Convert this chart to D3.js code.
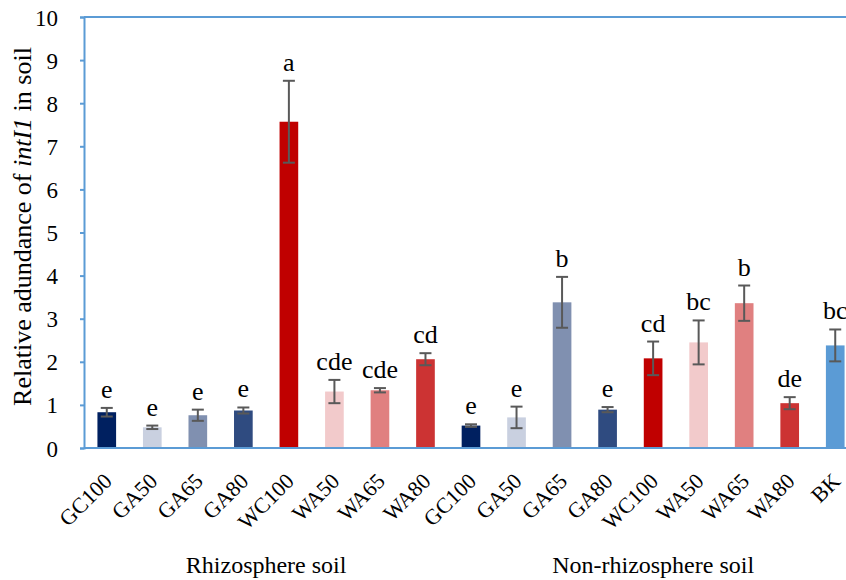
<!DOCTYPE html>
<html>
<head>
<meta charset="utf-8">
<script src="https://cdn.jsdelivr.net/npm/d3@7"></script>
<style>
  body { margin: 0; background: #fff; }
</style>
</head>
<body>
<div id="chart"></div>
<script>
// treatments, left group = rhizosphere, right group = non-rhizosphere + BK
const categories = ["GC100", "GA50", "GA65", "GA80", "WC100", "WA50", "WA65", "WA80",
                    "GC100", "GA50", "GA65", "GA80", "WC100", "WA50", "WA65", "WA80", "BK"];
const means   = [0.83, 0.48, 0.76, 0.87, 7.57, 1.31, 1.34, 2.06,
                 0.52, 0.71, 3.38, 0.89, 2.08, 2.45, 3.36, 1.04, 2.38];
const errors  = [0.10, 0.04, 0.13, 0.07, 0.95, 0.27, 0.05, 0.14,
                 0.03, 0.25, 0.59, 0.06, 0.39, 0.51, 0.41, 0.14, 0.37];
const letters = ["e", "e", "e", "e", "a", "cde", "cde", "cd",
                 "e", "e", "b", "e", "cd", "bc", "b", "de", "bc"];
const groupNames = ["Rhizosphere soil", "Non-rhizosphere soil"];
const yTicks = [0, 1, 2, 3, 4, 5, 6, 7, 8, 9, 10];

const palette = {
  GC100: "#002060", GA50: "#C9D0E0", GA65: "#8090B0", GA80: "#2F4B80",
  WC100: "#C00000", WA50: "#F2CACB", WA65: "#E08080", WA80: "#CC3333", BK: "#5B9BD5"
};

const serif = "Liberation Serif";
const width = 846, height = 580;
const margin = {top: 17, left: 84, bottom: 132};
const plotRight = 858;   // right edge of the plot falls outside the picture

const svg = d3.select("#chart").append("svg")
    .attr("width", width)
    .attr("height", height)
    .style("font-family", serif);

const x = d3.scaleBand()
    .domain(d3.range(categories.length))
    .range([margin.left, plotRight])
    .paddingInner(0.59)
    .paddingOuter(0.295);

const y = d3.scaleLinear()
    .domain([0, 10])
    .range([height - margin.bottom, margin.top]);

const cx = i => x(i) + x.bandwidth() / 2;

// bars
svg.selectAll("rect.bar")
    .data(means)
    .join("rect")
    .attr("class", "bar")
    .attr("x", (d, i) => x(i))
    .attr("width", x.bandwidth())
    .attr("y", d => y(d))
    .attr("height", d => y(0) - y(d))
    .attr("fill", (d, i) => palette[categories[i]]);

// error bars
const err = svg.append("g")
    .attr("stroke", "#595959")
    .attr("stroke-width", 2);
means.forEach((m, i) => {
  const lo = y(m - errors[i]), hi = y(m + errors[i]);
  err.append("line").attr("x1", cx(i)).attr("x2", cx(i)).attr("y1", lo).attr("y2", hi);
  err.append("line").attr("x1", cx(i) - 6).attr("x2", cx(i) + 6).attr("y1", lo).attr("y2", lo);
  err.append("line").attr("x1", cx(i) - 6).attr("x2", cx(i) + 6).attr("y1", hi).attr("y2", hi);
});

// significance letters
svg.selectAll("text.sig")
    .data(letters)
    .join("text")
    .attr("class", "sig")
    .attr("x", (d, i) => cx(i))
    .attr("y", (d, i) => y(means[i] + errors[i]) - 10)
    .attr("text-anchor", "middle")
    .style("font-family", serif)
    .style("font-size", "26px")
    .text(d => d);

// frame (blue)
const blue = "#5B9BD5";
svg.append("line")
    .attr("x1", margin.left).attr("x2", plotRight)
    .attr("y1", y(10)).attr("y2", y(10))
    .attr("stroke", blue).attr("stroke-width", 2);

// y axis
const yAxis = svg.append("g")
    .attr("transform", "translate(" + margin.left + ",0)")
    .call(d3.axisLeft(y).tickValues(yTicks).tickSize(4).tickPadding(22));
yAxis.attr("font-family", null);
yAxis.selectAll("path, line").attr("stroke", blue).attr("stroke-width", 2);
yAxis.selectAll("text")
    .style("font-family", serif)
    .style("font-size", "23px")
    .attr("fill", "#000")
    .attr("dy", "0.35em");

// x axis line
svg.append("line")
    .attr("x1", margin.left).attr("x2", plotRight)
    .attr("y1", y(0)).attr("y2", y(0))
    .attr("stroke", blue).attr("stroke-width", 2);

// rotated category labels
svg.selectAll("text.cat")
    .data(categories)
    .join("text")
    .attr("class", "cat")
    .attr("text-anchor", "end")
    .attr("dy", "0.35em")
    .style("font-family", serif)
    .style("font-size", "22px")
    .attr("transform", (d, i) =>
        "translate(" + (cx(i) + 1) + "," + (y(0) + 29) + ") rotate(-45)")
    .text(d => d);

// group labels (right group includes BK)
const groupCenters = [d3.mean([x(0), x(7) + x.bandwidth()]), d3.mean([x(8), x(16) + x.bandwidth()])];
svg.selectAll("text.group")
    .data(groupNames)
    .join("text")
    .attr("class", "group")
    .attr("x", (d, i) => groupCenters[i])
    .attr("y", 573)
    .attr("text-anchor", "middle")
    .style("font-family", serif)
    .style("font-size", "24px")
    .text(d => d);

// y axis title
const title = svg.append("text")
    .attr("transform", "translate(31," + ((y(0) + y(10)) / 2 - 6) + ") rotate(-90)")
    .attr("text-anchor", "middle")
    .style("font-family", serif)
    .style("font-size", "26px");
title.append("tspan").text("Relative adundance of ");
title.append("tspan").style("font-style", "italic").text("intI1");
title.append("tspan").text(" in soil");
</script>
</body>
</html>
